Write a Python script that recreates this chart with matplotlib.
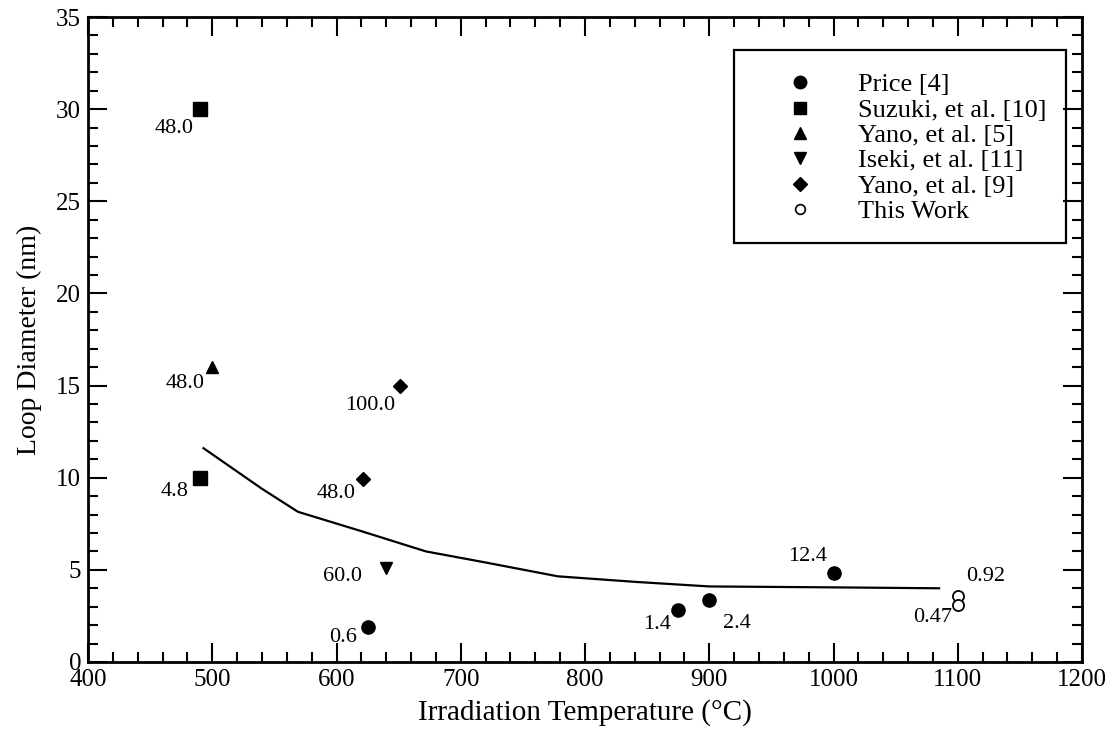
import matplotlib
matplotlib.use("Agg")
import matplotlib.pyplot as plt
from matplotlib.lines import Line2D
from matplotlib.patches import Rectangle
from matplotlib.ticker import MultipleLocator

plt.rcParams['font.family'] = ['Liberation Serif', 'DejaVu Serif']

# data
price_t = [625, 875, 900, 1000]
price_d = [1.9, 2.8, 3.35, 4.85]
price_lbl = ['0.6', '1.4', '2.4', '12.4']

suzuki_t = [490, 490]
suzuki_d = [30.0, 10.0]
suzuki_lbl = ['48.0', '4.8']

yano5_t = [500]
yano5_d = [16.0]
yano5_lbl = ['48.0']

iseki_t = [640]
iseki_d = [5.1]
iseki_lbl = ['60.0']

yano9_t = [651, 621]
yano9_d = [15.0, 9.95]
yano9_lbl = ['100.0', '48.0']

work_t = [1100, 1100]
work_d = [3.58, 3.08]
work_lbl = ['0.92', '0.47']

curve_t = [493, 540, 569, 620, 672, 720, 778, 840, 900, 1000, 1085]
curve_d = [11.6, 9.4, 8.15, 7.1, 6.0, 5.4, 4.65, 4.35, 4.1, 4.05, 4.0]

# label offsets in pixels from each point
price_off = [(-25, -11), (-21, -14), (28, -23), (-26, 16)]
suzuki_off = [(-26, -19), (-25, -14)]
yano5_off = [(-27, -16)]
iseki_off = [(-44, -8)]
yano9_off = [(-30, -20), (-26, -15)]
work_off = [(28, 20), (-25, -12)]

fig = plt.figure(figsize=(11.2, 7.43), dpi=100)
ax = fig.add_axes([88 / 1120, 1 - 662 / 743, 994 / 1120, 645 / 743])

ax.plot(curve_t, curve_d, color='black', lw=1.6)

ax.plot(price_t, price_d, 'o', color='black', ms=9.5, ls='none')
ax.plot(suzuki_t, suzuki_d, 's', color='black', ms=9.5, ls='none')
ax.plot(yano5_t, yano5_d, '^', color='black', ms=9, ls='none')
ax.plot(iseki_t, iseki_d, 'v', color='black', ms=9, ls='none')
ax.plot(yano9_t, yano9_d, 'D', color='black', ms=7.5, ls='none')
ax.plot(work_t, work_d, 'o', mfc='white', mec='black', mew=1.3, ms=8, ls='none')

groups = [
    (price_t, price_d, price_lbl, price_off),
    (suzuki_t, suzuki_d, suzuki_lbl, suzuki_off),
    (yano5_t, yano5_d, yano5_lbl, yano5_off),
    (iseki_t, iseki_d, iseki_lbl, iseki_off),
    (yano9_t, yano9_d, yano9_lbl, yano9_off),
    (work_t, work_d, work_lbl, work_off),
]
for xs, ys, lbls, offs in groups:
    for x, y, s, off in zip(xs, ys, lbls, offs):
        ax.annotate(s, (x, y), xytext=off, textcoords='offset pixels',
                    ha='center', va='center', fontsize=16)

ax.set_xlim(400, 1200)
ax.set_ylim(0, 35)
ax.xaxis.set_major_locator(MultipleLocator(100))
ax.xaxis.set_minor_locator(MultipleLocator(20))
ax.yaxis.set_major_locator(MultipleLocator(5))
ax.yaxis.set_minor_locator(MultipleLocator(1))
ax.tick_params(which='both', direction='in', top=True, right=True,
               labelsize=18, width=1.5)
ax.tick_params(which='major', length=14, pad=5)
ax.tick_params(which='minor', length=7)
for sp in ax.spines.values():
    sp.set_linewidth(2)

ax.set_xlabel('Irradiation Temperature (°C)', fontsize=21, labelpad=6)
ax.set_ylabel('Loop Diameter (nm)', fontsize=20, labelpad=10)

# the "0" sits a little above the corner, as in the original
ax.yaxis.get_major_ticks()[0].label1.set_verticalalignment('bottom')

handles = [
    Line2D([], [], marker='o', color='black', ls='none', ms=9),
    Line2D([], [], marker='s', color='black', ls='none', ms=8.5),
    Line2D([], [], marker='^', color='black', ls='none', ms=9),
    Line2D([], [], marker='v', color='black', ls='none', ms=9),
    Line2D([], [], marker='D', color='black', ls='none', ms=7),
    Line2D([], [], marker='o', mfc='white', mec='black', mew=1.2, ls='none', ms=7),
]
names = ['Price [4]', 'Suzuki, et al. [10]', 'Yano, et al. [5]',
         'Iseki, et al. [11]', 'Yano, et al. [9]', 'This Work']
ax.legend(handles, names, loc='upper left', frameon=False, fontsize=19,
          bbox_to_anchor=((784 - 88) / 994, (662 - 73) / 645),
          borderpad=0, borderaxespad=0, handlelength=1.2, handletextpad=1.6,
          labelspacing=0.07)
ax.add_patch(Rectangle(((734 - 88) / 994, (662 - 243) / 645),
                       (1066 - 734) / 994, (243 - 50) / 645,
                       transform=ax.transAxes, fill=False, lw=1.6,
                       ec='black', zorder=5))

fig.savefig('out.png', dpi=100)
